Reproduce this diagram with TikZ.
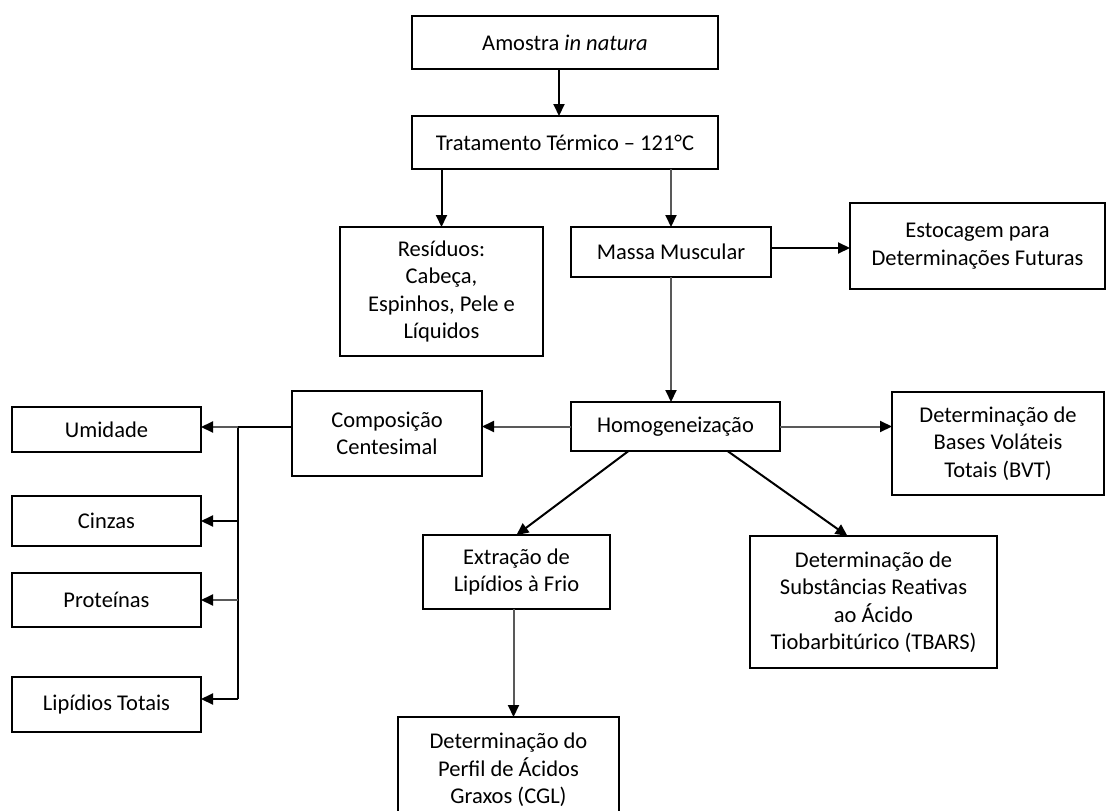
\documentclass[tikz,border=0pt]{standalone}
\usepackage{fontspec}
\setmainfont{Carlito}
\usetikzlibrary{arrows.meta}
\usetikzlibrary{positioning}

\begin{document}
\begin{tikzpicture}[x=1pt,y=-1pt,
    box/.style={draw,line width=2pt,align=center,inner sep=0pt,outer sep=0pt,
      font=\fontsize{22.5}{27.5}\selectfont},
    flow/.style={line width=2pt,-{Triangle[length=12pt,width=11pt]}},
    paleflow/.style={line width=2pt,draw=black!65,-{Triangle[length=12pt,width=11pt,color=black]}},
    pale/.style={line width=2pt,draw=black!65}]
    \clip (0,0) rectangle (1106,811);

    % main column
    \node[box,minimum width=306pt,minimum height=53pt] (amostra) at (565,42.5) {Amostra \textit{in natura}};
    \node[box,minimum width=306pt,minimum height=53pt] (tratamento) at (565,142.5) {Tratamento Térmico – 121°C};
    \node[box,minimum width=203pt,minimum height=129pt] (residuos) at (441.5,291.5) {Resíduos:\\Cabeça,\\Espinhos, Pele e\\Líquidos};
    \node[box,minimum width=200pt,minimum height=50pt] (massa) at (671,252) {Massa Muscular};
    \node[box,minimum width=255pt,minimum height=86pt] (estocagem) at (977.5,246) {Estocagem para\\Determinações Futuras};
    \node[box,minimum width=209pt,minimum height=49pt] (homog) at (675.5,426.5) {Homogeneização};
    \node[box,minimum width=212pt,minimum height=103pt] (bvt) at (998,443.5) {Determinação de\\Bases Voláteis\\Totais (BVT)};
    \node[box,minimum width=190pt,minimum height=85pt] (composicao) at (387,433.5) {Composição\\Centesimal};
    \node[box,minimum width=187pt,minimum height=74pt] (extracao) at (516.5,572) {Extração de\\Lipídios à Frio};
    \node[box,minimum width=247pt,minimum height=132pt] (tbars) at (873.5,602) {Determinação de\\Substâncias Reativas\\ao Ácido\\Tiobarbitúrico (TBARS)};
    \node[box,minimum width=221pt,minimum height=106pt] (cgl) at (508.5,770) {Determinação do\\Perfil de Ácidos\\Graxos (CGL)};

    % left column
    \node[box,minimum width=189pt,minimum height=45pt] (umidade) at (106.5,429.5) {Umidade};
    \node[box,minimum width=189pt,minimum height=50pt,below=44pt of umidade] (cinzas) {Cinzas};
    \node[box,minimum width=189pt,minimum height=54pt,below=27pt of cinzas] (proteinas) {Proteínas};
    \node[box,minimum width=189pt,minimum height=55pt,below=50pt of proteinas] (lipidios) {Lipídios Totais};
    \coordinate (spinetop) at (238,427);
    \coordinate (spinebot) at (238,699);

    \draw[flow] ([xshift=-6pt]amostra.south) -- ([xshift=-6pt]tratamento.north);
    \draw[flow] (tratamento.south -| residuos.north) -- (residuos.north);
    \draw[paleflow] (tratamento.south -| massa.north) -- (massa.north);
    \draw[flow] ([yshift=4pt]massa.east) -- ([yshift=4pt]massa.east -| estocagem.west);
    \draw[paleflow] (massa.south) -- (massa.south |- homog.north);
    \draw[paleflow] (homog.west) -- (homog.west -| composicao.east);
    \draw[paleflow] (homog.east) -- (homog.east -| bvt.west);
    \draw[flow] ([xshift=-47pt]homog.south) -- (extracao.north);
    \draw[flow] ([xshift=52pt]homog.south) -- ([xshift=-26pt]tbars.north);
    \draw[paleflow] ([xshift=-3pt]extracao.south) -- ([xshift=-3pt]extracao.south |- cgl.north);

    \draw[line width=2pt] (composicao.west |- spinetop) -- (spinetop) -- (spinebot);
    \draw[paleflow] (spinetop) -- (spinetop -| umidade.east);
    \draw[flow] (spinetop |- cinzas.east) -- (cinzas.east);
    \draw[paleflow] (spinetop |- proteinas.east) -- (proteinas.east);
    \draw[flow] (spinebot) -- (spinebot -| lipidios.east);
\end{tikzpicture}
\end{document}
